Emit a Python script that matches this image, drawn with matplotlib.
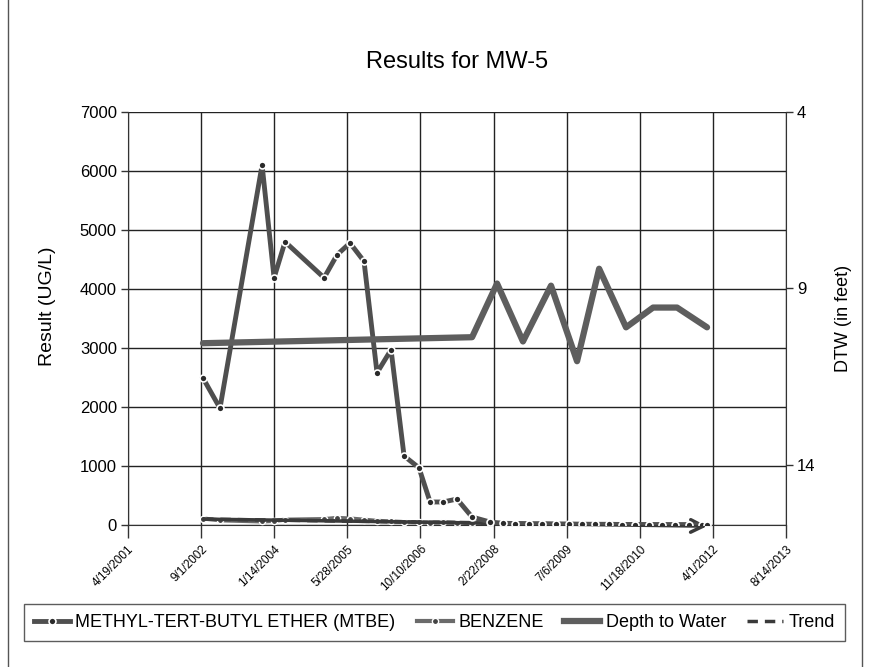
import matplotlib
matplotlib.use("Agg")
import matplotlib.pyplot as plt
from matplotlib.lines import Line2D
from matplotlib.patches import Rectangle
import pandas as pd

plt.rcParams['font.family'] = ['Liberation Sans', 'DejaVu Sans']

title = "Results for MW-5"
x_tick_labels = ["4/19/2001", "9/1/2002", "1/14/2004", "5/28/2005", "10/10/2006",
                 "2/22/2008", "7/6/2009", "11/18/2010", "4/1/2012", "8/14/2013"]
left_ticks = [0, 1000, 2000, 3000, 4000, 5000, 6000, 7000]
right_ticks = [4, 9, 14]

mtbe_dates = ["2002-09-14", "2003-01-08", "2003-10-23", "2004-01-13", "2004-03-28",
              "2004-12-20", "2005-03-19", "2005-06-15", "2005-09-19", "2005-12-17",
              "2006-03-23", "2006-06-20", "2006-09-30", "2006-12-15", "2007-03-14",
              "2007-06-17", "2007-09-28", "2008-01-29", "2008-04-25", "2008-07-20",
              "2008-10-22", "2009-01-20", "2009-04-22", "2009-07-20", "2009-10-21",
              "2010-01-19", "2010-04-20", "2010-07-21", "2010-10-19", "2011-01-18",
              "2011-04-19", "2011-07-19", "2011-10-18", "2012-01-17", "2012-02-21"]
mtbe_values = [2490, 1980, 6100, 4190, 4800, 4190, 4580, 4780, 4470, 2580,
               2970, 1170, 970, 390, 390, 440, 135, 50, 30, 25,
               20, 20, 15, 15, 10, 10, 10, 8, 8, 5,
               5, 5, 5, 3, 2]

benzene_dates = mtbe_dates
benzene_values = [110, 80, 60, 70, 90, 100, 120, 110, 90, 70,
                  60, 50, 45, 40, 45, 40, 35, 30, 30, 28,
                  25, 25, 22, 20, 20, 18, 18, 15, 15, 15,
                  12, 12, 10, 10, 10]

dtw_dates = ["2002-09-14", "2007-09-28", "2008-03-17", "2008-09-10", "2009-03-21",
             "2009-09-15", "2010-02-13", "2010-08-16", "2011-02-17", "2011-07-31",
             "2012-02-21"]
dtw_values = [10.55, 10.38, 8.86, 10.50, 8.92, 11.06, 8.44, 10.10, 9.54, 9.54, 10.10]

trend_dates = ["2002-09-14", "2012-02-21"]
trend_values = [100, -20]

mtbe_x = pd.to_datetime(mtbe_dates)
benz_x = pd.to_datetime(benzene_dates)
dtw_x = pd.to_datetime(dtw_dates)
trend_x = pd.to_datetime(trend_dates)
tick_x = pd.to_datetime(x_tick_labels, format="%m/%d/%Y")

fig = plt.figure(figsize=(8.7, 6.67), dpi=100)
ax = fig.add_axes([128/870, 1 - 525/667, (786-128)/870, (525-112)/667])

ax.set_xlim(tick_x[0], tick_x[-1])
ax.set_ylim(0, 7000)
ax.set_yticks(left_ticks)
ax.set_yticklabels([str(v) for v in left_ticks], fontsize=12)
ax.set_xticks(tick_x)
ax.set_xticklabels(x_tick_labels, rotation=45, ha="right", rotation_mode="anchor", fontsize=8.5)
ax.tick_params(axis="x", length=9, width=1, color="#333", pad=4)
ax.tick_params(axis="y", length=5, width=1, color="#333", pad=3)
ax.grid(True, color="#222", linewidth=1.0)
ax.set_axisbelow(True)
ax.spines["top"].set_visible(False)
ax.spines["right"].set_visible(False)
ax.spines["left"].set_color("#333")
ax.spines["bottom"].set_color("#333")

ax.plot(benz_x, benzene_values, color="#6b6b6b", lw=3, marker="o", ms=4.5,
        mfc="#444", mec="white", mew=1.0, zorder=3)
ax.plot(trend_x, trend_values, color="#3a3a3a", lw=2.5, ls=(0, (3, 2)), zorder=4)
ax.annotate("", xy=(trend_x[1], trend_values[1]), xytext=(trend_x[0], trend_values[0]),
            arrowprops=dict(arrowstyle="->,head_length=0.9,head_width=0.45", color="#3a3a3a",
                            lw=2.5, shrinkA=0, shrinkB=0),
            zorder=4, annotation_clip=False)
ax.plot(mtbe_x, mtbe_values, color="#4f4f4f", lw=3.5, marker="o", ms=5,
        mfc="#2a2a2a", mec="white", mew=1.2, zorder=5)

ax2 = ax.twinx()
ax2.set_ylim(15.7, 4)
ax2.set_yticks(right_ticks)
ax2.set_yticklabels([str(v) for v in right_ticks], fontsize=12)
ax2.tick_params(axis="y", length=5, width=1, color="#333", pad=3)
for s in ["top", "left", "bottom"]:
    ax2.spines[s].set_visible(False)
ax2.spines["right"].set_color("#333")
ax2.plot(dtw_x, dtw_values, color="#5e5e5e", lw=4.5, solid_capstyle="round", zorder=2)

ax.set_ylabel("Result (UG/L)", fontsize=14)
ax.yaxis.set_label_coords(-0.109, 0.53)
ax2.set_ylabel("DTW (in feet)", fontsize=13, labelpad=14)
fig.text(457/870, 1 - 62/667, title, ha="center", va="center", fontsize=17)

handles = [
    Line2D([], [], color="#4f4f4f", lw=3.5, marker="o", ms=5, mfc="#2a2a2a", mec="white", mew=1.2),
    Line2D([], [], color="#6b6b6b", lw=3, marker="o", ms=4.5, mfc="#444", mec="white", mew=1.0),
    Line2D([], [], color="#5e5e5e", lw=4.5),
    Line2D([], [], color="#3a3a3a", lw=2.5, ls=(0, (3, 2))),
]
labels = ["METHYL-TERT-BUTYL ETHER (MTBE)", "BENZENE", "Depth to Water", "Trend"]
leg = fig.legend(handles, labels, loc="lower left", ncol=4, fontsize=13, mode="expand",
                 bbox_to_anchor=(24/870, 1 - 641/667, (845-24)/870, 38/667),
                 borderaxespad=0,
                 frameon=True, fancybox=False, edgecolor="#333",
                 handlelength=2.0, handletextpad=0.3, columnspacing=1.0, borderpad=0.55)
leg.get_frame().set_linewidth(1.0)

fig.patches.append(Rectangle((8/870, -0.01), (862-8)/870, 1.02, transform=fig.transFigure,
                             fill=False, edgecolor="#555", lw=1))

fig.savefig("out.png", dpi=100, facecolor="white")
